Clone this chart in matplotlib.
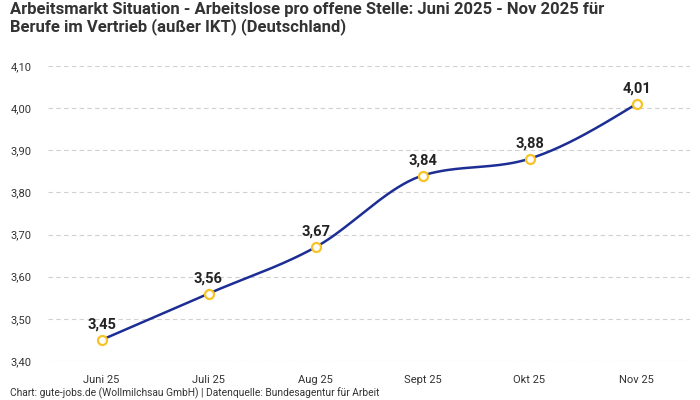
import numpy as np
import matplotlib.pyplot as plt
from matplotlib.ticker import FuncFormatter

months = ["Juni 25", "Juli 25", "Aug 25", "Sept 25", "Okt 25", "Nov 25"]
values = [3.45, 3.56, 3.67, 3.84, 3.88, 4.01]
y_ticks = [3.40, 3.50, 3.60, 3.70, 3.80, 3.90, 4.00, 4.10]

title = ("Arbeitsmarkt Situation - Arbeitslose pro offene Stelle: Juni 2025 - Nov 2025 für\n"
         "Berufe im Vertrieb (außer IKT) (Deutschland)")
footer = "Chart: gute-jobs.de (Wollmilchsau GmbH) | Datenquelle: Bundesagentur für Arbeit"


def monotone_curve(x, y, n=40):
    # same tangents as d3 curveMonotoneX
    x = np.asarray(x, float)
    y = np.asarray(y, float)
    h = np.diff(x)
    s = np.diff(y) / h
    m = np.zeros_like(y)
    for i in range(1, len(y) - 1):
        p = (s[i - 1] * h[i] + s[i] * h[i - 1]) / (h[i - 1] + h[i])
        m[i] = (np.sign(s[i - 1]) + np.sign(s[i])) * min(abs(s[i - 1]), abs(s[i]), 0.5 * abs(p))
    m[0] = (3 * s[0] - m[1]) / 2
    m[-1] = (3 * s[-1] - m[-2]) / 2
    xs, ys = [], []
    for i in range(len(x) - 1):
        t = np.linspace(0, 1, n)
        h00 = 2 * t**3 - 3 * t**2 + 1
        h10 = t**3 - 2 * t**2 + t
        h01 = -2 * t**3 + 3 * t**2
        h11 = t**3 - t**2
        xs.append(x[i] + t * h[i])
        ys.append(h00 * y[i] + h10 * h[i] * m[i] + h01 * y[i + 1] + h11 * h[i] * m[i + 1])
    return np.concatenate(xs), np.concatenate(ys)


plt.rcParams['font.family'] = ['Roboto', 'DejaVu Sans']

fig = plt.figure(figsize=(7, 4), dpi=100)
ax = fig.add_axes([48 / 700, 1 - 361 / 400, 642 / 700, 295 / 400])

xpos = np.arange(len(months))
cx, cy = monotone_curve(xpos, values)
ax.plot(cx, cy, color="#1c2e94", lw=1.8, zorder=3)
ax.scatter(xpos, values, s=42, facecolor="white", edgecolor="#f7c325", linewidth=1.6, zorder=4)

for x, v in zip(xpos, values):
    ax.annotate(f"{v:.2f}".replace(".", ","), (x, v), xytext=(0, 6), textcoords="offset points",
                ha="center", va="bottom", fontsize=10.5, fontweight="bold", color="#222222")

ax.set_xlim(-0.5, len(months) - 0.5)
ax.set_ylim(3.40, 4.10)
ax.set_yticks(y_ticks)
ax.yaxis.set_major_formatter(FuncFormatter(lambda v, p: f"{v:.2f}".replace(".", ",")))
ax.set_xticks(xpos)
ax.set_xticklabels(months)
ax.tick_params(axis="both", length=0, labelsize=8, labelcolor="#333333")
ax.tick_params(axis="x", pad=10)
ax.tick_params(axis="y", pad=27)
for lbl in ax.get_yticklabels():
    lbl.set_horizontalalignment("left")
ax.grid(axis="y", linestyle=(0, (4, 3)), color="#d0d0d0", lw=0.8)
ax.set_axisbelow(True)
for sp in ax.spines.values():
    sp.set_visible(False)

fig.text(10 / 700, 1 - 2 / 400, title, ha="left", va="top", fontsize=12, fontweight="bold",
         color="#333333", linespacing=1.05)
fig.text(10 / 700, 1 - 393 / 400, footer, ha="left", va="center", fontsize=7.4, color="#333333")

fig.savefig("out.png", dpi=100)
